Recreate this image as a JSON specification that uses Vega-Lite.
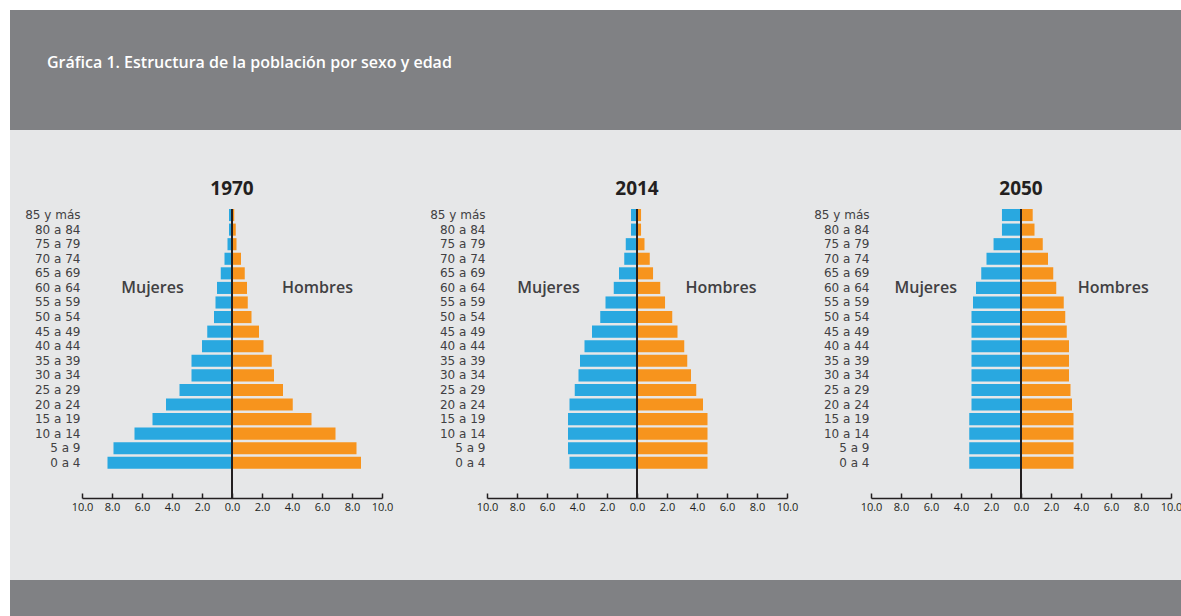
{
  "$schema": "https://vega.github.io/schema/vega-lite/v6.json",
  "background": "#e6e7e8",
  "padding": 0,
  "autosize": {"type": "pad"},
  "config": {"view": {"stroke": null}, "font": "Open Sans"},
  "datasets": {
    "pop": [
      {"year":1970,"age":"85 y más","sex":"Mujeres","value":0.2},{"year":1970,"age":"80 a 84","sex":"Mujeres","value":0.2},{"year":1970,"age":"75 a 79","sex":"Mujeres","value":0.3},{"year":1970,"age":"70 a 74","sex":"Mujeres","value":0.5},{"year":1970,"age":"65 a 69","sex":"Mujeres","value":0.75},{"year":1970,"age":"60 a 64","sex":"Mujeres","value":1.0},{"year":1970,"age":"55 a 59","sex":"Mujeres","value":1.1},{"year":1970,"age":"50 a 54","sex":"Mujeres","value":1.2},{"year":1970,"age":"45 a 49","sex":"Mujeres","value":1.65},{"year":1970,"age":"40 a 44","sex":"Mujeres","value":2.0},{"year":1970,"age":"35 a 39","sex":"Mujeres","value":2.7},{"year":1970,"age":"30 a 34","sex":"Mujeres","value":2.7},{"year":1970,"age":"25 a 29","sex":"Mujeres","value":3.5},{"year":1970,"age":"20 a 24","sex":"Mujeres","value":4.4},{"year":1970,"age":"15 a 19","sex":"Mujeres","value":5.3},{"year":1970,"age":"10 a 14","sex":"Mujeres","value":6.5},{"year":1970,"age":"5 a 9","sex":"Mujeres","value":7.9},{"year":1970,"age":"0 a 4","sex":"Mujeres","value":8.3},
      {"year":1970,"age":"85 y más","sex":"Hombres","value":0.15},{"year":1970,"age":"80 a 84","sex":"Hombres","value":0.25},{"year":1970,"age":"75 a 79","sex":"Hombres","value":0.3},{"year":1970,"age":"70 a 74","sex":"Hombres","value":0.6},{"year":1970,"age":"65 a 69","sex":"Hombres","value":0.85},{"year":1970,"age":"60 a 64","sex":"Hombres","value":1.0},{"year":1970,"age":"55 a 59","sex":"Hombres","value":1.05},{"year":1970,"age":"50 a 54","sex":"Hombres","value":1.3},{"year":1970,"age":"45 a 49","sex":"Hombres","value":1.8},{"year":1970,"age":"40 a 44","sex":"Hombres","value":2.1},{"year":1970,"age":"35 a 39","sex":"Hombres","value":2.65},{"year":1970,"age":"30 a 34","sex":"Hombres","value":2.8},{"year":1970,"age":"25 a 29","sex":"Hombres","value":3.4},{"year":1970,"age":"20 a 24","sex":"Hombres","value":4.05},{"year":1970,"age":"15 a 19","sex":"Hombres","value":5.3},{"year":1970,"age":"10 a 14","sex":"Hombres","value":6.9},{"year":1970,"age":"5 a 9","sex":"Hombres","value":8.3},{"year":1970,"age":"0 a 4","sex":"Hombres","value":8.6},
      {"year":2014,"age":"85 y más","sex":"Mujeres","value":0.4},{"year":2014,"age":"80 a 84","sex":"Mujeres","value":0.4},{"year":2014,"age":"75 a 79","sex":"Mujeres","value":0.75},{"year":2014,"age":"70 a 74","sex":"Mujeres","value":0.85},{"year":2014,"age":"65 a 69","sex":"Mujeres","value":1.2},{"year":2014,"age":"60 a 64","sex":"Mujeres","value":1.55},{"year":2014,"age":"55 a 59","sex":"Mujeres","value":2.1},{"year":2014,"age":"50 a 54","sex":"Mujeres","value":2.45},{"year":2014,"age":"45 a 49","sex":"Mujeres","value":3.0},{"year":2014,"age":"40 a 44","sex":"Mujeres","value":3.5},{"year":2014,"age":"35 a 39","sex":"Mujeres","value":3.8},{"year":2014,"age":"30 a 34","sex":"Mujeres","value":3.9},{"year":2014,"age":"25 a 29","sex":"Mujeres","value":4.15},{"year":2014,"age":"20 a 24","sex":"Mujeres","value":4.5},{"year":2014,"age":"15 a 19","sex":"Mujeres","value":4.6},{"year":2014,"age":"10 a 14","sex":"Mujeres","value":4.6},{"year":2014,"age":"5 a 9","sex":"Mujeres","value":4.6},{"year":2014,"age":"0 a 4","sex":"Mujeres","value":4.5},
      {"year":2014,"age":"85 y más","sex":"Hombres","value":0.27},{"year":2014,"age":"80 a 84","sex":"Hombres","value":0.27},{"year":2014,"age":"75 a 79","sex":"Hombres","value":0.5},{"year":2014,"age":"70 a 74","sex":"Hombres","value":0.85},{"year":2014,"age":"65 a 69","sex":"Hombres","value":1.07},{"year":2014,"age":"60 a 64","sex":"Hombres","value":1.55},{"year":2014,"age":"55 a 59","sex":"Hombres","value":1.87},{"year":2014,"age":"50 a 54","sex":"Hombres","value":2.35},{"year":2014,"age":"45 a 49","sex":"Hombres","value":2.7},{"year":2014,"age":"40 a 44","sex":"Hombres","value":3.15},{"year":2014,"age":"35 a 39","sex":"Hombres","value":3.35},{"year":2014,"age":"30 a 34","sex":"Hombres","value":3.6},{"year":2014,"age":"25 a 29","sex":"Hombres","value":3.95},{"year":2014,"age":"20 a 24","sex":"Hombres","value":4.4},{"year":2014,"age":"15 a 19","sex":"Hombres","value":4.7},{"year":2014,"age":"10 a 14","sex":"Hombres","value":4.7},{"year":2014,"age":"5 a 9","sex":"Hombres","value":4.7},{"year":2014,"age":"0 a 4","sex":"Hombres","value":4.7},
      {"year":2050,"age":"85 y más","sex":"Mujeres","value":1.27},{"year":2050,"age":"80 a 84","sex":"Mujeres","value":1.27},{"year":2050,"age":"75 a 79","sex":"Mujeres","value":1.83},{"year":2050,"age":"70 a 74","sex":"Mujeres","value":2.3},{"year":2050,"age":"65 a 69","sex":"Mujeres","value":2.65},{"year":2050,"age":"60 a 64","sex":"Mujeres","value":3.0},{"year":2050,"age":"55 a 59","sex":"Mujeres","value":3.2},{"year":2050,"age":"50 a 54","sex":"Mujeres","value":3.3},{"year":2050,"age":"45 a 49","sex":"Mujeres","value":3.3},{"year":2050,"age":"40 a 44","sex":"Mujeres","value":3.3},{"year":2050,"age":"35 a 39","sex":"Mujeres","value":3.3},{"year":2050,"age":"30 a 34","sex":"Mujeres","value":3.3},{"year":2050,"age":"25 a 29","sex":"Mujeres","value":3.3},{"year":2050,"age":"20 a 24","sex":"Mujeres","value":3.3},{"year":2050,"age":"15 a 19","sex":"Mujeres","value":3.45},{"year":2050,"age":"10 a 14","sex":"Mujeres","value":3.45},{"year":2050,"age":"5 a 9","sex":"Mujeres","value":3.45},{"year":2050,"age":"0 a 4","sex":"Mujeres","value":3.45},
      {"year":2050,"age":"85 y más","sex":"Hombres","value":0.78},{"year":2050,"age":"80 a 84","sex":"Hombres","value":0.9},{"year":2050,"age":"75 a 79","sex":"Hombres","value":1.45},{"year":2050,"age":"70 a 74","sex":"Hombres","value":1.8},{"year":2050,"age":"65 a 69","sex":"Hombres","value":2.15},{"year":2050,"age":"60 a 64","sex":"Hombres","value":2.35},{"year":2050,"age":"55 a 59","sex":"Hombres","value":2.85},{"year":2050,"age":"50 a 54","sex":"Hombres","value":2.95},{"year":2050,"age":"45 a 49","sex":"Hombres","value":3.05},{"year":2050,"age":"40 a 44","sex":"Hombres","value":3.2},{"year":2050,"age":"35 a 39","sex":"Hombres","value":3.2},{"year":2050,"age":"30 a 34","sex":"Hombres","value":3.2},{"year":2050,"age":"25 a 29","sex":"Hombres","value":3.3},{"year":2050,"age":"20 a 24","sex":"Hombres","value":3.4},{"year":2050,"age":"15 a 19","sex":"Hombres","value":3.5},{"year":2050,"age":"10 a 14","sex":"Hombres","value":3.5},{"year":2050,"age":"5 a 9","sex":"Hombres","value":3.5},{"year":2050,"age":"0 a 4","sex":"Hombres","value":3.5}
    ],
    "lab": [
      {"year":1970,"age":"60 a 64","label":"Mujeres","value":-5.3},{"year":1970,"age":"60 a 64","label":"Hombres","value":5.7},
      {"year":2014,"age":"60 a 64","label":"Mujeres","value":-5.9},{"year":2014,"age":"60 a 64","label":"Hombres","value":5.6},
      {"year":2050,"age":"60 a 64","label":"Mujeres","value":-6.35},{"year":2050,"age":"60 a 64","label":"Hombres","value":6.15}
    ],
    "zero": [{"value": 0}],
    "none": []
  },
  "spacing": 0,
  "hconcat": [
    {"width": 10, "height": 616, "view": {"fill": "#ffffff"}, "data": {"name": "none"}, "mark": "point"},
    {
      "spacing": 0,
      "vconcat": [
        {"width": 1171, "height": 10, "view": {"fill": "#ffffff"}, "data": {"name": "none"}, "mark": "point"},
        {"width": 1171, "height": 120, "view": {"fill": "#808184"}, "data": {"name": "none"}, "mark": "point",
         "title": {"text": "Gráfica 1. Estructura de la población por sexo y edad", "anchor": "start", "orient": "top", "frame": "group", "offset": -74, "dx": 37, "baseline": "alphabetic", "font": "Open Sans", "fontSize": 16, "fontWeight": 600, "color": "#ffffff"}},
        {"width": 1171, "height": 50, "data": {"name": "none"}, "mark": "point"},
        {
          "spacing": 0,
          "hconcat": [
            {"width": 14, "height": 10, "data": {"name": "none"}, "mark": "point"},
            {
              "spacing": 36,
              "hconcat": [
                {
                  "width": 300, "height": 289,
                  "title": {"text": "1970", "fontSize": 19, "font": "Open Sans", "fontWeight": "bold", "color": "#231f20", "offset": 9},
                  "resolve": {"scale": {"x": "independent"}},
                  "layer": [
                    {"data": {"name": "pop"}, "transform": [{"filter": "datum.year == 1970 && datum.sex == 'Hombres'"}],
                     "mark": {"type": "bar", "color": "#f7941d"},
                     "encoding": {
                       "x": {"field": "value", "type": "quantitative", "scale": {"domain": [-10, 10]},
                             "axis": {"values": [-10,-8,-6,-4,-2,0,2,4,6,8,10], "labelExpr": "format(abs(datum.value), '.1f')", "title": null, "grid": false, "domainColor": "#231f20", "domainWidth": 1.5, "tickColor": "#231f20", "tickSize": -5, "tickWidth": 1.5, "labelPadding": 8, "labelFontSize": 11, "labelColor": "#231f20", "labelFont": "Open Sans", "labelOverlap": false, "labelFlush": false}},
                       "y": {"field": "age", "type": "ordinal", "sort": null, "scale": {"domain": ["85 y más","80 a 84","75 a 79","70 a 74","65 a 69","60 a 64","55 a 59","50 a 54","45 a 49","40 a 44","35 a 39","30 a 34","25 a 29","20 a 24","15 a 19","10 a 14","5 a 9","0 a 4"], "paddingInner": 0.17, "paddingOuter": 1.05, "align": 0},
                             "axis": {"title": null, "domain": false, "ticks": false, "labelPadding": 2, "labelFontSize": 12, "labelFont": "DejaVu Sans", "labelColor": "#414042"}}
                     }},
                    {"data": {"name": "pop"}, "transform": [{"filter": "datum.year == 1970 && datum.sex == 'Mujeres'"}],
                     "mark": {"type": "bar", "color": "#29a8e0"},
                     "encoding": {
                       "x": {"field": "value", "type": "quantitative", "scale": {"domain": [-10, 10], "reverse": true}, "axis": null},
                       "y": {"field": "age", "type": "ordinal", "sort": null}
                     }},
                    {"data": {"name": "zero"}, "mark": {"type": "rule", "color": "#231f20", "strokeWidth": 2},
                     "encoding": {"x": {"field": "value", "type": "quantitative", "scale": {"domain": [-10, 10]}, "axis": null}}},
                    {"data": {"name": "lab"}, "transform": [{"filter": "datum.year == 1970"}],
                     "mark": {"type": "text", "font": "Open Sans", "fontSize": 16, "fontWeight": 600, "color": "#414042", "align": "center", "baseline": "middle"},
                     "encoding": {
                       "x": {"field": "value", "type": "quantitative", "scale": {"domain": [-10, 10]}, "axis": null},
                       "y": {"field": "age", "type": "ordinal", "sort": null},
                       "text": {"field": "label"}
                     }}
                  ]
                },
                {
                  "spacing": 15,
                  "hconcat": [
                    {
                      "width": 300, "height": 289,
                      "title": {"text": "2014", "fontSize": 19, "font": "Open Sans", "fontWeight": "bold", "color": "#231f20", "offset": 9},
                      "resolve": {"scale": {"x": "independent"}},
                      "layer": [
                        {"data": {"name": "pop"}, "transform": [{"filter": "datum.year == 2014 && datum.sex == 'Hombres'"}],
                         "mark": {"type": "bar", "color": "#f7941d"},
                         "encoding": {
                           "x": {"field": "value", "type": "quantitative", "scale": {"domain": [-10, 10]},
                                 "axis": {"values": [-10,-8,-6,-4,-2,0,2,4,6,8,10], "labelExpr": "format(abs(datum.value), '.1f')", "title": null, "grid": false, "domainColor": "#231f20", "domainWidth": 1.5, "tickColor": "#231f20", "tickSize": -5, "tickWidth": 1.5, "labelPadding": 8, "labelFontSize": 11, "labelColor": "#231f20", "labelFont": "Open Sans", "labelOverlap": false, "labelFlush": false}},
                           "y": {"field": "age", "type": "ordinal", "sort": null, "scale": {"domain": ["85 y más","80 a 84","75 a 79","70 a 74","65 a 69","60 a 64","55 a 59","50 a 54","45 a 49","40 a 44","35 a 39","30 a 34","25 a 29","20 a 24","15 a 19","10 a 14","5 a 9","0 a 4"], "paddingInner": 0.17, "paddingOuter": 1.05, "align": 0},
                                 "axis": {"title": null, "domain": false, "ticks": false, "labelPadding": 2, "labelFontSize": 12, "labelFont": "DejaVu Sans", "labelColor": "#414042"}}
                         }},
                        {"data": {"name": "pop"}, "transform": [{"filter": "datum.year == 2014 && datum.sex == 'Mujeres'"}],
                         "mark": {"type": "bar", "color": "#29a8e0"},
                         "encoding": {
                           "x": {"field": "value", "type": "quantitative", "scale": {"domain": [-10, 10], "reverse": true}, "axis": null},
                           "y": {"field": "age", "type": "ordinal", "sort": null}
                         }},
                        {"data": {"name": "zero"}, "mark": {"type": "rule", "color": "#231f20", "strokeWidth": 2},
                         "encoding": {"x": {"field": "value", "type": "quantitative", "scale": {"domain": [-10, 10]}, "axis": null}}},
                        {"data": {"name": "lab"}, "transform": [{"filter": "datum.year == 2014"}],
                         "mark": {"type": "text", "font": "Open Sans", "fontSize": 16, "fontWeight": 600, "color": "#414042", "align": "center", "baseline": "middle"},
                         "encoding": {
                           "x": {"field": "value", "type": "quantitative", "scale": {"domain": [-10, 10]}, "axis": null},
                           "y": {"field": "age", "type": "ordinal", "sort": null},
                           "text": {"field": "label"}
                         }}
                      ]
                    },
                    {
                      "width": 300, "height": 289,
                      "title": {"text": "2050", "fontSize": 19, "font": "Open Sans", "fontWeight": "bold", "color": "#231f20", "offset": 9},
                      "resolve": {"scale": {"x": "independent"}},
                      "layer": [
                        {"data": {"name": "pop"}, "transform": [{"filter": "datum.year == 2050 && datum.sex == 'Hombres'"}],
                         "mark": {"type": "bar", "color": "#f7941d"},
                         "encoding": {
                           "x": {"field": "value", "type": "quantitative", "scale": {"domain": [-10, 10]},
                                 "axis": {"values": [-10,-8,-6,-4,-2,0,2,4,6,8,10], "labelExpr": "format(abs(datum.value), '.1f')", "title": null, "grid": false, "domainColor": "#231f20", "domainWidth": 1.5, "tickColor": "#231f20", "tickSize": -5, "tickWidth": 1.5, "labelPadding": 8, "labelFontSize": 11, "labelColor": "#231f20", "labelFont": "Open Sans", "labelOverlap": false, "labelFlush": false}},
                           "y": {"field": "age", "type": "ordinal", "sort": null, "scale": {"domain": ["85 y más","80 a 84","75 a 79","70 a 74","65 a 69","60 a 64","55 a 59","50 a 54","45 a 49","40 a 44","35 a 39","30 a 34","25 a 29","20 a 24","15 a 19","10 a 14","5 a 9","0 a 4"], "paddingInner": 0.17, "paddingOuter": 1.05, "align": 0},
                                 "axis": {"title": null, "domain": false, "ticks": false, "labelPadding": 2, "labelFontSize": 12, "labelFont": "DejaVu Sans", "labelColor": "#414042"}}
                         }},
                        {"data": {"name": "pop"}, "transform": [{"filter": "datum.year == 2050 && datum.sex == 'Mujeres'"}],
                         "mark": {"type": "bar", "color": "#29a8e0"},
                         "encoding": {
                           "x": {"field": "value", "type": "quantitative", "scale": {"domain": [-10, 10], "reverse": true}, "axis": null},
                           "y": {"field": "age", "type": "ordinal", "sort": null}
                         }},
                        {"data": {"name": "zero"}, "mark": {"type": "rule", "color": "#231f20", "strokeWidth": 2},
                         "encoding": {"x": {"field": "value", "type": "quantitative", "scale": {"domain": [-10, 10]}, "axis": null}}},
                        {"data": {"name": "lab"}, "transform": [{"filter": "datum.year == 2050"}],
                         "mark": {"type": "text", "font": "Open Sans", "fontSize": 16, "fontWeight": 600, "color": "#414042", "align": "center", "baseline": "middle"},
                         "encoding": {
                           "x": {"field": "value", "type": "quantitative", "scale": {"domain": [-10, 10]}, "axis": null},
                           "y": {"field": "age", "type": "ordinal", "sort": null},
                           "text": {"field": "label"}
                         }}
                      ]
                    }
                  ]
                }
              ]
            }
          ]
        },
        {"width": 1171, "height": 68, "data": {"name": "none"}, "mark": "point"},
        {"width": 1171, "height": 36, "view": {"fill": "#808184"}, "data": {"name": "none"}, "mark": "point"}
      ]
    }
  ]
}
